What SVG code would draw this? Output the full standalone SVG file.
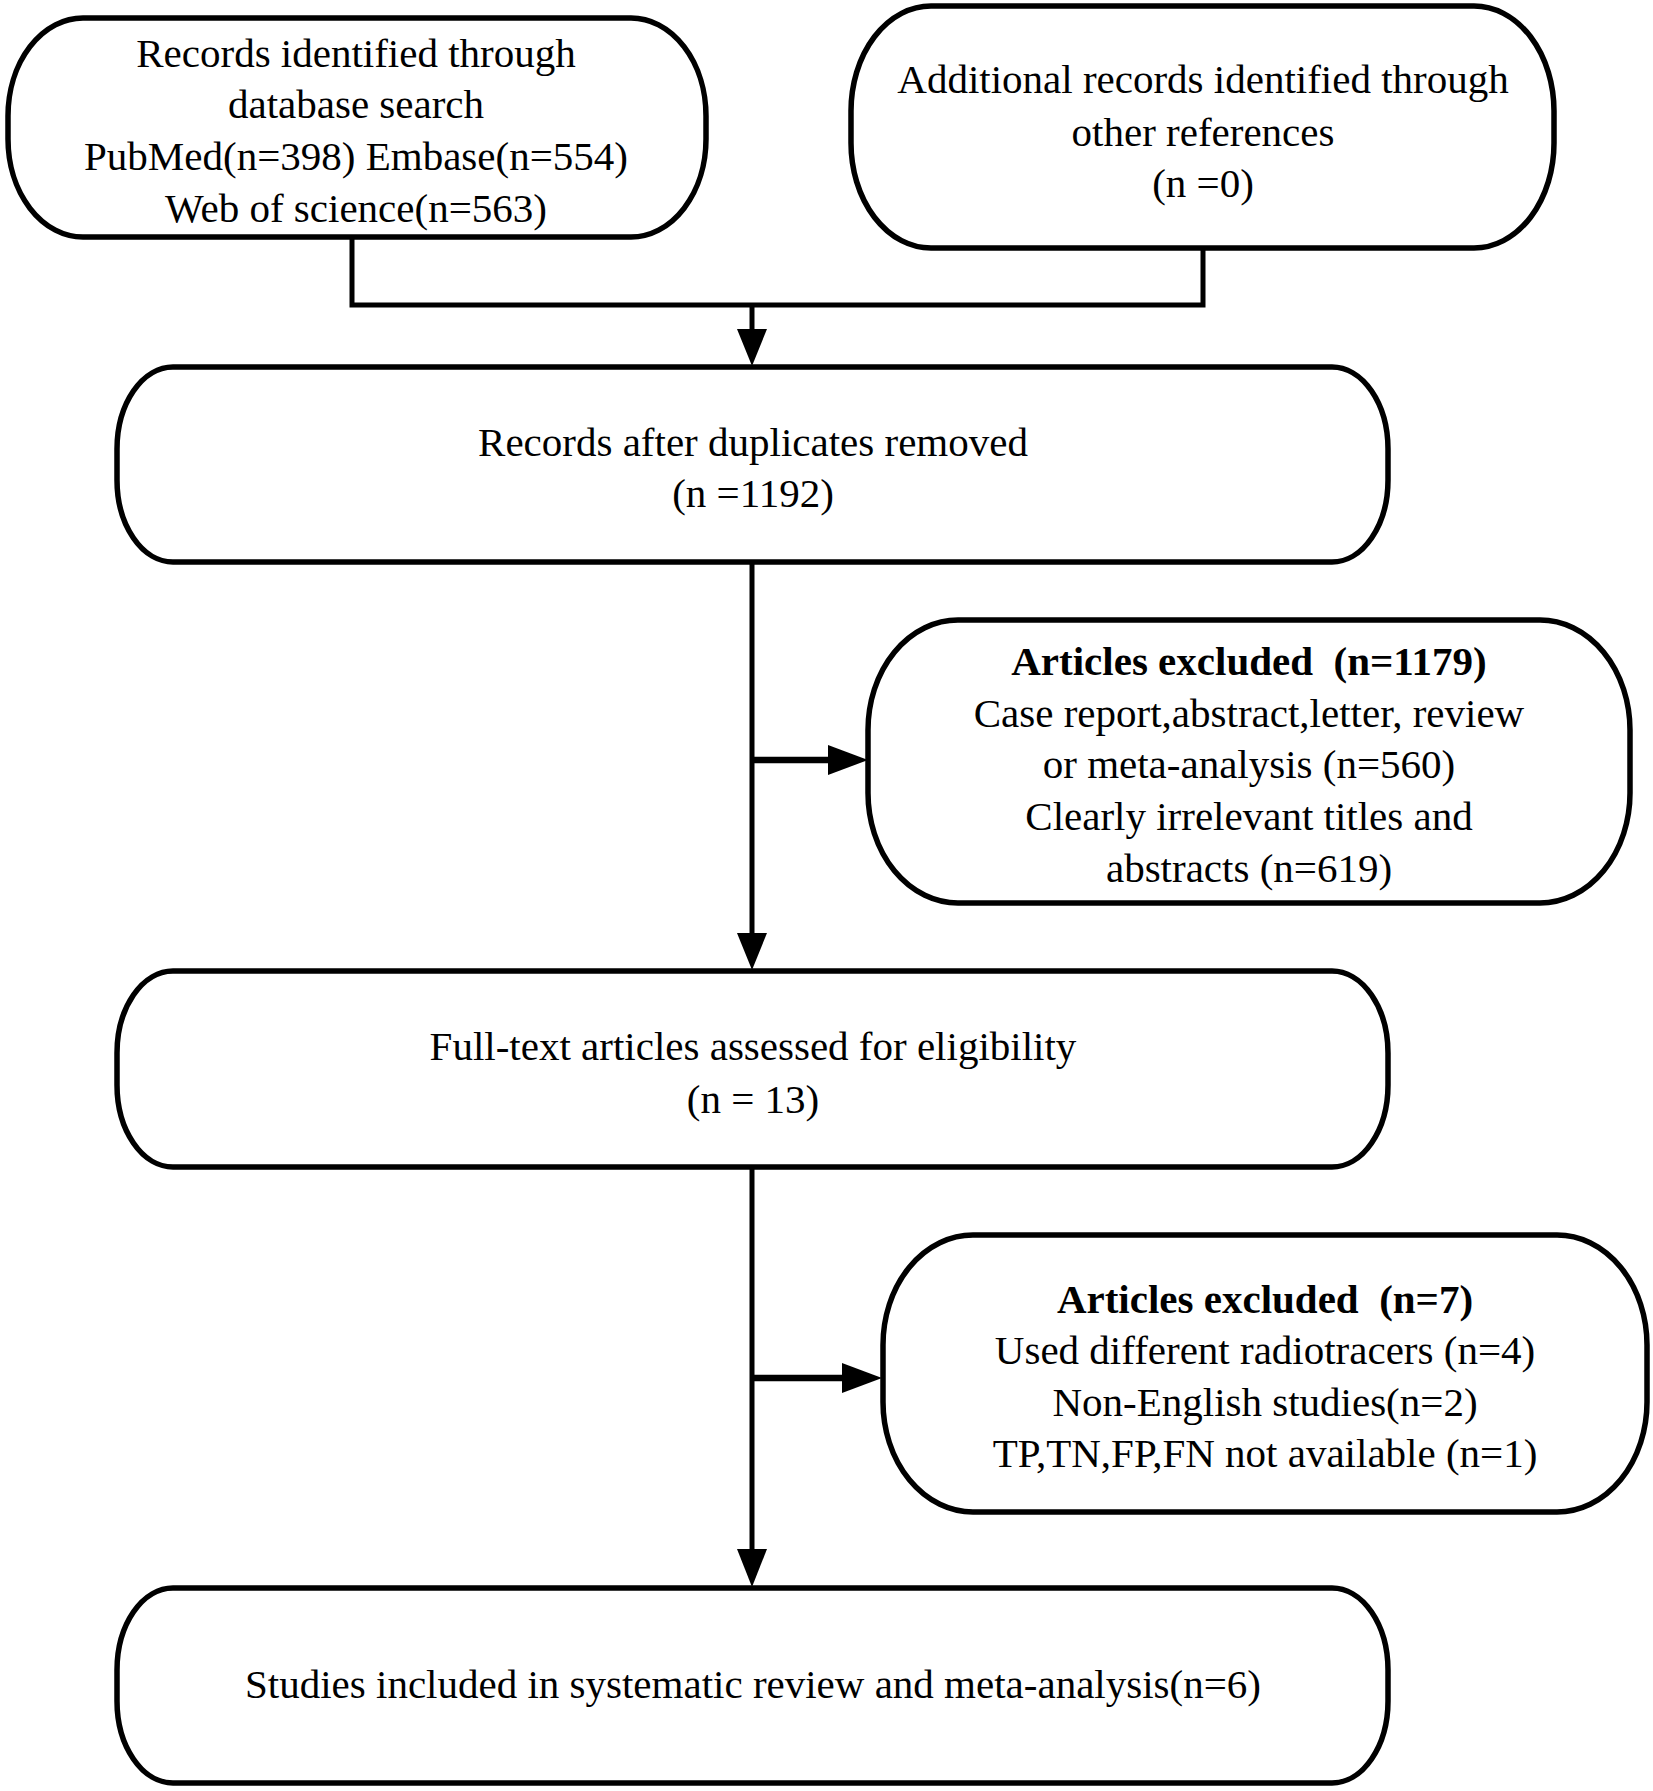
<svg xmlns="http://www.w3.org/2000/svg" width="1653" height="1791" viewBox="0 0 1653 1791">
<style>
.box{fill:#fff;stroke:#000;stroke-width:5.5}
.ln{fill:none;stroke:#000;stroke-width:5}
.br{fill:none;stroke:#000;stroke-width:6.5}
.ah{fill:#000;stroke:none}
text{font-family:"Liberation Serif","Times New Roman",serif;font-size:41px;fill:#000;text-anchor:middle}
.b{font-weight:bold}
</style>
<rect width="1653" height="1791" fill="#fff"/>
<g id="connectors">
<path class="ln" d="M352 238 V305 H1203 V248"/>
<path class="ln" d="M752 305 V331"/>
<polygon class="ah" points="737,329 767,329 752,366"/>
<path class="ln" d="M752 562 V935"/>
<polygon class="ah" points="737,933 767,933 752,970"/>
<path class="br" d="M752 760 H830"/>
<polygon class="ah" points="828,745 828,775 868,760"/>
<path class="ln" d="M752 1167 V1551"/>
<polygon class="ah" points="737,1549 767,1549 752,1587"/>
<path class="br" d="M752 1378 H844"/>
<polygon class="ah" points="842,1363 842,1393 882,1378"/>
</g>
<g id="n1">
<rect class="box" x="8" y="18" width="698" height="219" rx="75" ry="98"/>
<text x="356" y="67">Records identified through</text>
<text x="356" y="118">database search</text>
<text x="356" y="170">PubMed(n=398) Embase(n=554)</text>
<text x="356" y="222">Web of science(n=563)</text>
</g>
<g id="n2">
<rect class="box" x="851" y="6" width="703" height="242" rx="80" ry="105"/>
<text x="1203" y="93">Additional records identified through</text>
<text x="1203" y="146">other references</text>
<text x="1203" y="197">(n =0)</text>
</g>
<g id="n3">
<rect class="box" x="117" y="367" width="1271" height="195" rx="56" ry="82"/>
<text x="753" y="456">Records after duplicates removed</text>
<text x="753" y="507">(n =1192)</text>
</g>
<g id="n5">
<rect class="box" x="868" y="620" width="762" height="283" rx="90" ry="110"/>
<text x="1249" y="675" class="b" xml:space="preserve">Articles excluded  (n=1179)</text>
<text x="1249" y="727">Case report,abstract,letter, review</text>
<text x="1249" y="778">or meta-analysis (n=560)</text>
<text x="1249" y="830">Clearly irrelevant titles and</text>
<text x="1249" y="882">abstracts (n=619)</text>
</g>
<g id="n4">
<rect class="box" x="117" y="971" width="1271" height="196" rx="56" ry="82"/>
<text x="753" y="1060">Full-text articles assessed for eligibility</text>
<text x="753" y="1113">(n = 13)</text>
</g>
<g id="n6">
<rect class="box" x="883" y="1235" width="764" height="277" rx="90" ry="110"/>
<text x="1265" y="1313" class="b" xml:space="preserve">Articles excluded  (n=7)</text>
<text x="1265" y="1364">Used different radiotracers (n=4)</text>
<text x="1265" y="1416">Non-English studies(n=2)</text>
<text x="1265" y="1467">TP,TN,FP,FN not available (n=1)</text>
</g>
<g id="n7">
<rect class="box" x="117" y="1588" width="1271" height="195" rx="56" ry="82"/>
<text x="753" y="1698">Studies included in systematic review and meta-analysis(n=6)</text>
</g>
</svg>
